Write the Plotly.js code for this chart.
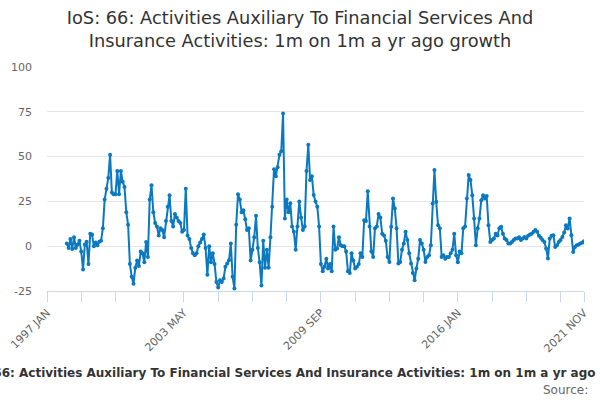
<!DOCTYPE html>
<html>
<head>
<meta charset="utf-8">
<script src="https://cdn.plot.ly/plotly-3.0.1.min.js"></script>
<style>
  html, body { margin: 0; padding: 0; background: #ffffff; }
  #chart { width: 600px; height: 400px; }
</style>
</head>
<body>
<div id="chart"></div>
<script>
// Month names used for category labels
const monthNames = ['JAN','FEB','MAR','APR','MAY','JUN','JUL','AUG','SEP','OCT','NOV','DEC'];
const firstYear = 1997;
const lastYear = 2021;
const lastMonth = 11; // NOV

// Growth (%) : 1m on 1m a yr ago, by year (JAN..DEC)
const y1997 = [null,null,null,null,null,null,null,null,null,null,null,1.5];
const y1998 = [-1,4,-1.5,5,-1,1,3,-3,-13,1,2.5,-10];
const y1999 = [7,6.5,0,2,0.5,2.5,3,10,26,32,38,51];
const y2000 = [30,29,29,42,29,42,36,33,19,12,-10,-17];
const y2001 = [-21,-12,-8,-11,-3,-4,-9,2.4,-6,26,34,19];
const y2002 = [13,11,6,10,9,5,14,22,28.5,14,11,18];
const y2003 = [16,14,13,8,9,32,6,4,-1,-4,-5,-4];
const y2004 = [0,2,4,6.5,-1,-16,0,-9,-4,-10,-20,-23];
const y2005 = [-19,-20,-18,-11.5,-9.7,-7.8,1.5,-17,-23.6,12,29,26];
const y2006 = [19,20,15,9,10,-8,-2,5,17,-1,-9,-22];
const y2007 = [3,-12,-2,-12,5,22,43,39,44,51,53,74];
const y2008 = [15.5,26,19,24,11,8,-2,11,25,16,9,11];
const y2009 = [42,56.6,37,39,28.6,25,22,11,-10,-14,-11.5,-7];
const y2010 = [-12.5,-10,-14,11,-2,-1.3,5,0.5,0,0,-3,-14];
const y2011 = [-15,-4,-8,-12.5,-11.5,-10,-4,-6,14.5,14,30.7,11];
const y2012 = [-3,-6,10,11,18,16,7,6,3,-6,-8.8,10.8];
const y2013 = [26.6,21,10,-9.7,-8.8,-2,1.5,8,3.4,-4,-9.7,-15];
const y2014 = [-19,-12.5,-7,3.4,1.5,-2,-8.8,-6,-5,0.5,23.8,42.5];
const y2015 = [24.8,11.7,10,-6,-5,-7,-6,-6,-4,-2,7,-5];
const y2016 = [-9,-3,-4,10,11,26.6,39.7,37,28.5,15.5,0.5,10];
const y2017 = [15.5,25.7,28.5,26.6,28,11.7,2.4,3.4,4.3,7,6,10];
const y2018 = [10.8,7,4.3,3.4,1.5,1.5,2.4,3.4,4.3,4.3,5,3.4];
const y2019 = [4.3,5.2,4.3,5.8,6.5,7,8,9,8,5.8,4.7,3.4];
const y2020 = [2.4,-1.3,-6.8,4.3,5.8,6.1,-0.4,0.5,2.4,3.4,5.2,7.6];
const y2021 = [11.7,9.9,15.5,6.1,-3.2,-0.4,0.5,1,1.5,2,2.8];

const values = [].concat(y1997,y1998,y1999,y2000,y2001,y2002,y2003,y2004,y2005,
  y2006,y2007,y2008,y2009,y2010,y2011,y2012,y2013,y2014,y2015,y2016,y2017,
  y2018,y2019,y2020,y2021);

// Category labels "YYYY MON"
const categories = [];
for (let y = firstYear; y <= lastYear; y++) {
  for (let m = 0; m < 12; m++) {
    if (y === lastYear && m >= lastMonth) break;
    categories.push(y + ' ' + monthNames[m]);
  }
}

// Tick marks every 19 months, labels every 4th mark, plus the last month
const labelledTicks = ['1997 JAN','2003 MAY','2009 SEP','2016 JAN','2021 NOV'];
const tickVals = [];
const tickText = [];
for (let i = 0; i < categories.length; i += 19) {
  tickVals.push(categories[i]);
  tickText.push(labelledTicks.includes(categories[i]) ? categories[i] : '');
}
tickVals.push(categories[categories.length - 1]);
tickText.push(categories[categories.length - 1]);

const yTicks = [-25, 0, 25, 50, 75, 100];

const seriesName = 'IoS: 66: Activities Auxiliary To Financial Services And Insurance Activities: 1m on 1m a yr ago growth';
const lineColor = '#0a79c0';

const trace = {
  x: categories,
  y: values,
  type: 'scatter',
  mode: 'lines+markers',
  line: { color: lineColor, width: 2 },
  marker: { color: lineColor, size: 4 },
  hoverinfo: 'skip',
  showlegend: false
};

const layout = {
  width: 600,
  height: 400,
  margin: { l: 47, r: 16, t: 67, b: 109 },
  paper_bgcolor: '#ffffff',
  plot_bgcolor: '#ffffff',
  font: { family: 'DejaVu Sans, sans-serif', color: '#666666', size: 11 },
  title: {
    text: 'IoS: 66: Activities Auxiliary To Financial Services And<br>Insurance Activities: 1m on 1m a yr ago growth',
    font: { family: 'DejaVu Sans, sans-serif', size: 17.8, color: '#333333' },
    x: 0.5, xanchor: 'center',
    y: 0.94, yanchor: 'top', yref: 'container'
  },
  xaxis: {
    type: 'category',
    range: [0, categories.length - 1],
    tickmode: 'array',
    tickvals: tickVals,
    ticktext: tickText,
    tickangle: -45,
    ticks: 'outside',
    ticklen: 10,
    tickcolor: '#ccd6eb',
    tickwidth: 1,
    showline: true,
    linecolor: '#ccd6eb',
    linewidth: 1,
    showgrid: false,
    zeroline: false,
    tickfont: { size: 11, color: '#666666' },
    fixedrange: true
  },
  yaxis: {
    range: [-25, 100],
    tickmode: 'array',
    tickvals: yTicks,
    ticktext: yTicks.map(String),
    showgrid: true,
    gridcolor: '#e6e6e6',
    gridwidth: 1,
    zeroline: false,
    showline: false,
    ticks: '',
    ticklabelstandoff: 14,
    tickfont: { size: 11, color: '#666666' },
    fixedrange: true
  },
  annotations: [
    {
      text: '<b>' + seriesName + '</b>',
      xref: 'paper', yref: 'paper',
      x: (305 - 47) / 537, y: -(373 - 291) / 224,
      xanchor: 'center', yanchor: 'middle',
      showarrow: false,
      font: { family: 'DejaVu Sans, sans-serif', size: 12, color: '#333333' }
    },
    {
      text: 'Source:',
      xref: 'paper', yref: 'paper',
      x: (590 - 47) / 537, y: -(390 - 291) / 224,
      xanchor: 'right', yanchor: 'middle',
      showarrow: false,
      font: { family: 'DejaVu Sans, sans-serif', size: 12, color: '#666666' }
    }
  ]
};

Plotly.newPlot('chart', [trace], layout, { displayModeBar: false, staticPlot: true });
</script>
</body>
</html>
